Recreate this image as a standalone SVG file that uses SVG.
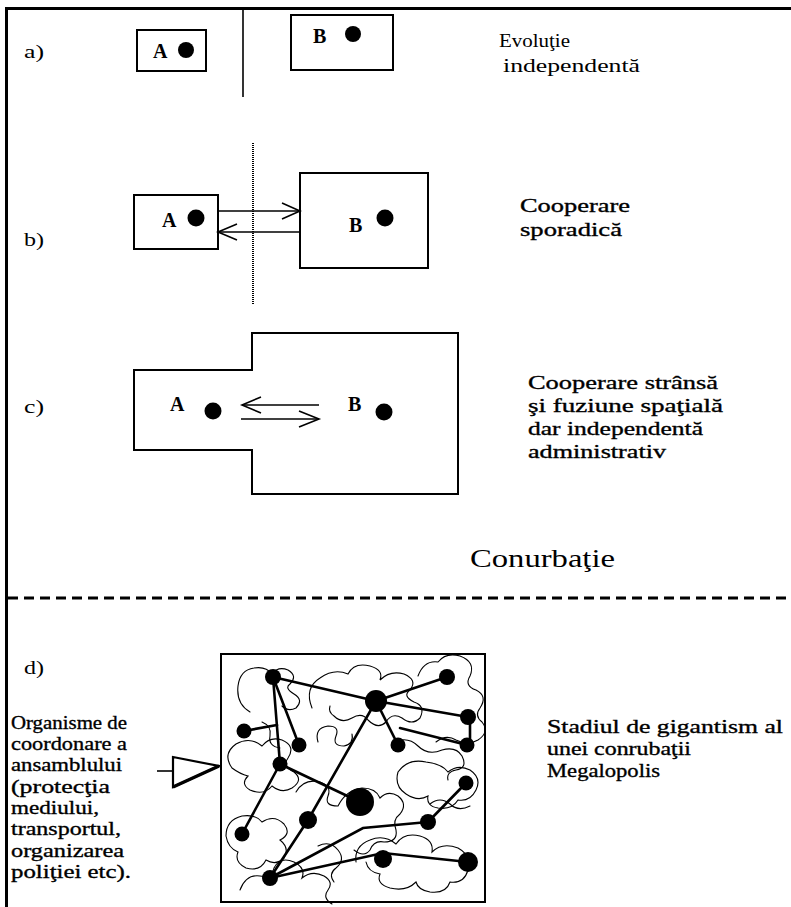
<svg xmlns="http://www.w3.org/2000/svg" width="791" height="907" viewBox="0 0 791 907">
<style>
.bg{fill:#fff}
.frame{stroke:#000;stroke-width:3;fill:none}
.box{fill:#fff;stroke:#000;stroke-width:2}
.ln{stroke:#000;stroke-width:1.6;fill:none}
.t{font-family:"Liberation Serif","Times New Roman",serif;fill:#000}
.lbl{font-size:19px}
.nm{font-size:20px;font-weight:bold}
.cap{font-size:19px}
.capb{font-size:19px;stroke:#000;stroke-width:0.35}
.conur{font-size:25px}
.dot{fill:#000}
.edge{stroke:#000;stroke-width:2.6;fill:none;stroke-linecap:round}
.scr{stroke:#000;stroke-width:1.1;fill:none;stroke-linecap:round}
.dash{stroke:#000;stroke-width:3;stroke-dasharray:10 6;fill:none}
</style>
<rect class="bg" x="0" y="0" width="791" height="907"/>
<g id="frame">
<line class="frame" x1="5" y1="8.5" x2="791" y2="8.5"/>
<line class="frame" x1="6.5" y1="7" x2="6.5" y2="907"/>
<line class="dash" x1="8" y1="598" x2="791" y2="598"/>
</g>
<g id="row-a">
<text class="t lbl" x="24" y="58" textLength="20" lengthAdjust="spacingAndGlyphs">a)</text>
<line class="ln" x1="243" y1="10" x2="243" y2="97"/>
<g id="a-A">
<rect class="box" x="137" y="30" width="69" height="41"/>
<text class="t nm" x="153" y="58">A</text>
<circle class="dot" cx="186" cy="50" r="8"/>
</g>
<g id="a-B">
<rect class="box" x="291" y="15" width="102" height="55"/>
<text class="t nm" x="313" y="43">B</text>
<circle class="dot" cx="353" cy="34" r="8"/>
</g>
<text class="t cap" x="499" y="47" textLength="71" lengthAdjust="spacingAndGlyphs">Evoluţie</text>
<text class="t cap" x="503" y="72" textLength="137" lengthAdjust="spacingAndGlyphs">independentă</text>
</g>
<g id="row-b">
<text class="t lbl" x="24" y="246" textLength="20" lengthAdjust="spacingAndGlyphs">b)</text>
<line x1="253" y1="143" x2="253" y2="304" stroke="#000" stroke-width="2" stroke-dasharray="1 1"/>
<g id="b-A">
<rect class="box" x="134" y="195" width="84" height="54"/>
<text class="t nm" x="162" y="227">A</text>
<circle class="dot" cx="196" cy="218" r="8.5"/>
</g>
<g id="b-B">
<rect class="box" x="300" y="173" width="128" height="95"/>
<text class="t nm" x="349" y="232">B</text>
<circle class="dot" cx="385" cy="218" r="8.5"/>
</g>
<g id="b-connectors">
<line class="ln" x1="218" y1="211" x2="300" y2="211"/>
<polyline class="ln" points="282,203 300,211 282,219"/>
<line class="ln" x1="300" y1="232" x2="218" y2="232"/>
<polyline class="ln" points="237,224 218,232 237,240"/>
</g>
<text class="t capb" x="520" y="212" textLength="110" lengthAdjust="spacingAndGlyphs">Cooperare</text>
<text class="t capb" x="520" y="236" textLength="102" lengthAdjust="spacingAndGlyphs">sporadică</text>
</g>
<g id="row-c">
<text class="t lbl" x="24" y="413" textLength="20" lengthAdjust="spacingAndGlyphs">c)</text>
<g id="c-shape">
<polygon class="box" points="252,333 458,333 458,494 252,494 252,450 134,450 134,370 252,370"/>
<text class="t nm" x="170" y="411">A</text>
<circle class="dot" cx="213" cy="411" r="8.5"/>
<text class="t nm" x="348" y="411">B</text>
<circle class="dot" cx="384" cy="412" r="8.5"/>
</g>
<g id="c-connectors">
<line class="ln" x1="319" y1="405" x2="242" y2="405"/>
<polyline class="ln" points="261,397 242,405 261,413"/>
<line class="ln" x1="241" y1="419" x2="319" y2="419"/>
<polyline class="ln" points="299,411 319,419 299,427"/>
</g>
<text class="t capb" x="528" y="389" textLength="190" lengthAdjust="spacingAndGlyphs">Cooperare strânsă</text>
<text class="t capb" x="528" y="412" textLength="195" lengthAdjust="spacingAndGlyphs">şi fuziune  spaţială</text>
<text class="t capb" x="528" y="435" textLength="175" lengthAdjust="spacingAndGlyphs">dar independentă</text>
<text class="t capb" x="528" y="458" textLength="138" lengthAdjust="spacingAndGlyphs">administrativ</text>
<text class="t conur" x="470" y="567" textLength="145" lengthAdjust="spacingAndGlyphs">Conurbaţie</text>
</g>
<g id="row-d">
<text class="t lbl" x="24" y="674" textLength="20" lengthAdjust="spacingAndGlyphs">d)</text>
<g id="d-left">
<text class="t capb" x="11" y="729" textLength="116" lengthAdjust="spacingAndGlyphs">Organisme de</text>
<text class="t capb" x="11" y="750" textLength="116" lengthAdjust="spacingAndGlyphs">coordonare a</text>
<text class="t capb" x="11" y="771" textLength="111" lengthAdjust="spacingAndGlyphs">ansamblului</text>
<text class="t capb" x="11" y="793" textLength="99" lengthAdjust="spacingAndGlyphs">(protecţia</text>
<text class="t capb" x="11" y="814" textLength="88" lengthAdjust="spacingAndGlyphs">mediului,</text>
<text class="t capb" x="11" y="835" textLength="110" lengthAdjust="spacingAndGlyphs">transportul,</text>
<text class="t capb" x="11" y="857" textLength="113" lengthAdjust="spacingAndGlyphs">organizarea</text>
<text class="t capb" x="11" y="878" textLength="120" lengthAdjust="spacingAndGlyphs">poliţiei etc).</text>
</g>
<g id="d-triangle">
<line class="ln" x1="157" y1="771" x2="176" y2="771"/>
<polygon points="173,757 219,766 173,787" fill="#fff" stroke="#000" stroke-width="2.2"/>
<line x1="173" y1="787" x2="219" y2="766" stroke="#000" stroke-width="3.4"/>
</g>
<g id="d-megalopolis">
<rect class="box" x="221" y="654" width="264" height="248"/>
<g id="scribbles">
<path class="scr" d="M250 712 q-14 -8 -12 -26 q2 -16 16 -18 q12 -2 18 6 q6 -8 16 -4 q10 6 2 14 q-6 4 4 10 q10 6 2 14 q-8 4 -14 -2"/>
<path class="scr" d="M312 708 q-8 -20 8 -30 q14 -10 28 -4 q6 -12 22 -8 q14 4 10 14 q10 -10 24 -6 q14 6 6 16 q-8 6 4 12 q12 4 6 16 q-8 8 -18 0 q-10 -6 -16 4 q-8 8 -18 -2 q-6 -8 -16 -2 q-10 6 -18 -2 q-6 -4 -4 -10"/>
<path class="scr" d="M318 742 q-4 -14 10 -16 q12 0 8 10 q-4 10 8 10 q10 -2 8 -12"/>
<path class="scr" d="M418 676 q6 -16 20 -14 q8 -10 22 -6 q16 6 10 20 q-6 10 6 14 q12 6 4 18 q-6 8 2 14 q8 10 -4 18 q-10 6 -22 0 q-10 -6 -20 2"/>
<path class="scr" d="M394 742 q14 -6 24 4 q10 10 24 4 q14 -4 20 6 q6 12 -6 14 q-10 2 -8 10"/>
<path class="scr" d="M232 768 q-10 -14 4 -24 q14 -8 26 2 q8 -10 20 -6 q14 6 6 18 q-6 8 6 14 q10 8 -2 16 q-10 6 -20 -2 q-8 10 -22 4 q-10 -6 -2 -14 q-8 -2 -16 -8"/>
<path class="scr" d="M296 792 q8 -14 24 -10 q12 4 8 14 q-4 10 10 10 q8 -16 24 -18 q14 0 18 10 q8 -8 18 -2 q10 8 2 18 q-8 6 -4 16 q2 12 -12 12 q-10 -2 -14 8 q-6 8 -16 0"/>
<path class="scr" d="M398 772 q10 -14 28 -10 q16 2 22 10 q10 -8 22 -2 q12 8 6 20 q-6 12 -18 10 q-6 10 -20 8 q-12 -2 -10 -12 q-10 6 -22 -2 q-12 -8 -8 -22"/>
<path class="scr" d="M226 836 q0 -16 16 -20 q14 -2 20 6 q12 -8 22 2 q8 10 -4 16 q10 8 4 18 q-8 8 -18 2 q-6 12 -20 8 q-12 -6 -8 -16 q-10 -4 -12 -16"/>
<path class="scr" d="M240 890 q6 -16 20 -14 q12 2 14 -8 q6 -12 20 -6 q12 6 8 16 q10 -8 22 -2 q10 6 4 14 q-6 8 4 14"/>
<path class="scr" d="M356 862 q-2 -16 14 -22 q14 -6 26 4 q8 -12 24 -8 q14 4 12 16 q10 -10 26 -4 q14 8 10 22 q-4 14 -18 12 q-4 12 -20 10 q-12 -2 -14 -10 q-10 10 -26 6 q-14 -4 -10 -14 q-12 -2 -14 -12"/>
<path class="scr" d="M318 846 q12 -6 20 4 q8 10 -2 18 q-8 6 -2 14"/>
<path class="scr" d="M430 804 q10 -8 20 0 q8 8 20 2"/>
<path class="scr" d="M262 722 q10 4 8 14 q-2 10 10 12"/>
</g>
<g id="links">
<line class="edge" x1="273" y1="677" x2="376" y2="701"/>
<line class="edge" x1="273" y1="677" x2="280" y2="764"/>
<line class="edge" x1="273" y1="677" x2="299" y2="745"/>
<line class="edge" x1="244" y1="731" x2="277" y2="725"/>
<line class="edge" x1="376" y1="701" x2="447" y2="677"/>
<line class="edge" x1="376" y1="701" x2="468" y2="717"/>
<line class="edge" x1="376" y1="701" x2="398" y2="745"/>
<line class="edge" x1="376" y1="701" x2="308" y2="820"/>
<line class="edge" x1="400" y1="728" x2="467" y2="745"/>
<line class="edge" x1="470" y1="717" x2="470" y2="745"/>
<line class="edge" x1="280" y1="764" x2="360" y2="802"/>
<line class="edge" x1="280" y1="764" x2="242" y2="834"/>
<line class="edge" x1="308" y1="820" x2="270" y2="878"/>
<polyline class="edge" points="270,878 363,828 428,822"/>
<polyline class="edge" points="270,878 383,853 468,862"/>
<line class="edge" x1="428" y1="822" x2="466" y2="783"/>
</g>
<g id="cities">
<circle class="dot" cx="273" cy="677" r="8"/>
<circle class="dot" cx="376" cy="701" r="11"/>
<circle class="dot" cx="447" cy="677" r="8"/>
<circle class="dot" cx="244" cy="731" r="7.5"/>
<circle class="dot" cx="299" cy="745" r="7.5"/>
<circle class="dot" cx="398" cy="745" r="7.5"/>
<circle class="dot" cx="468" cy="717" r="8"/>
<circle class="dot" cx="467" cy="745" r="7.5"/>
<circle class="dot" cx="280" cy="764" r="7.5"/>
<circle class="dot" cx="360" cy="802" r="14"/>
<circle class="dot" cx="308" cy="820" r="9"/>
<circle class="dot" cx="466" cy="783" r="7.5"/>
<circle class="dot" cx="428" cy="822" r="8"/>
<circle class="dot" cx="242" cy="834" r="7.5"/>
<circle class="dot" cx="383" cy="859" r="9"/>
<circle class="dot" cx="468" cy="862" r="10"/>
<circle class="dot" cx="270" cy="878" r="8"/>
</g>
</g>
<g id="d-right">
<text class="t capb" x="547" y="733" textLength="236" lengthAdjust="spacingAndGlyphs">Stadiul de gigantism al</text>
<text class="t capb" x="547" y="755" textLength="144" lengthAdjust="spacingAndGlyphs">unei conrubaţii</text>
<text class="t capb" x="547" y="777" textLength="113" lengthAdjust="spacingAndGlyphs">Megalopolis</text>
</g>
</g>
</svg>
